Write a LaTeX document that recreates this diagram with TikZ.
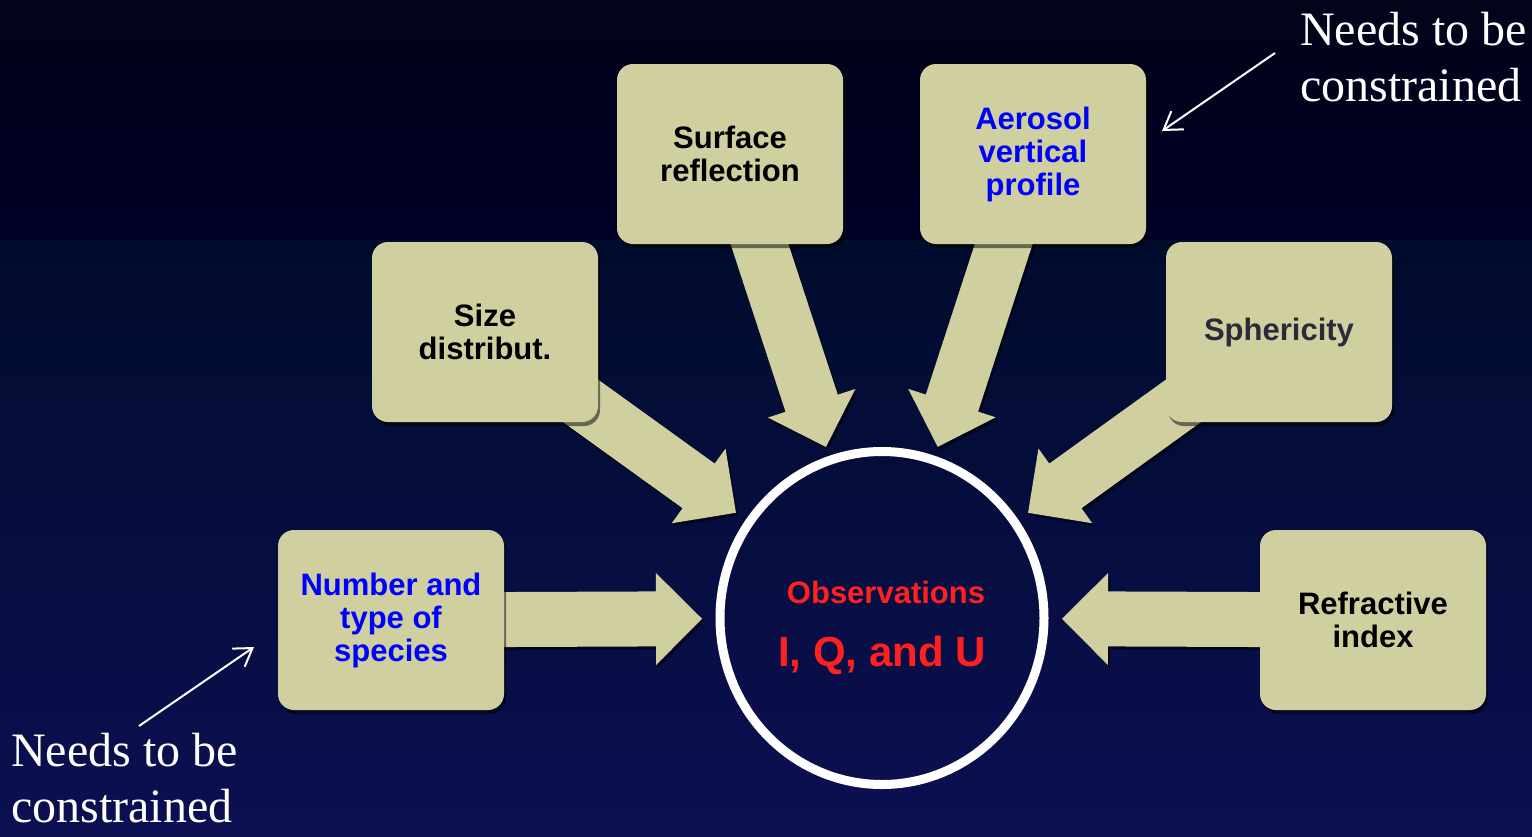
\documentclass[tikz,border=0pt]{standalone}
\usepackage{fontspec}
\setmainfont{Liberation Serif}
\setsansfont{Liberation Sans}
\usetikzlibrary{calc,shadows,backgrounds,shapes.geometric,arrows.meta}

\definecolor{khaki}{HTML}{CFCFA0}
\definecolor{skytop}{HTML}{03031A}
\definecolor{skybot}{HTML}{000026}
\definecolor{seatop}{HTML}{000C2C}
\definecolor{seamid}{HTML}{0E0A42}
\definecolor{seabot}{HTML}{0C0F52}
\definecolor{obsred}{HTML}{FF2020}
\definecolor{slate}{HTML}{2A2A3C}

\begin{document}
\begin{tikzpicture}
[x=1pt,y=-1pt,
 box/.style={rectangle,rounded corners=16pt,fill=khaki,minimum width=226pt,minimum height=180pt,inner sep=0pt,align=center,
   font=\sffamily\bfseries\fontsize{31}{33}\selectfont,drop shadow={shadow xshift=2pt,shadow yshift=-4pt,fill=black,opacity=.5}},
 fatarrow/.style={fill=khaki,drop shadow={shadow xshift=2pt,shadow yshift=-3pt,fill=black,opacity=.5}},
 obstext/.style={anchor=base,text=obsred,font=\sffamily\bfseries},
 note/.style={anchor=north west,align=left,inner sep=0pt,text=white,font=\fontsize{48}{56}\selectfont},
 notearrow/.style={draw=white,line width=2pt,-{Straight Barb[length=17pt,width=22pt,line width=2pt]}}]
\useasboundingbox (0,0) rectangle (1532,836);
\begin{scope}[on background layer]
\shade[top color=skytop,bottom color=skybot] (0,0) rectangle (1532,240);
\shade[top color=seatop,middle color=seamid,bottom color=seabot] (0,240) rectangle (1532,836);
\end{scope}

\node[box] (surf) at (730,154) {Surface\\reflection};
\node[box,text=blue] (aero) at (1033,154) {Aerosol\\vertical\\profile};
\node[box] (size) at (485,332) {Size\\distribut.};
\node[box,text=slate] (spher) at (1279,332) {Sphericity};
\node[box,text=blue] (num) at (391,620) {Number and\\type of\\species};
\node[box] (refr) at (1373,620) {Refractive\\index};

\node[ellipse,draw=white,line width=9pt,minimum width=324pt,minimum height=333pt,inner sep=0pt] (obs) at (882,618) {};
\node[obstext,font=\sffamily\bfseries\fontsize{31}{33}\selectfont] (obstitle) at (886,603) {Observations};
\node[obstext,font=\sffamily\bfseries\fontsize{42}{46}\selectfont] (stokes) at (882,666) {I, Q, and U};

% block arrows into the circle
\begin{scope}[on background layer]
\foreach \from in {num,size,surf,aero,spher,refr}{
  \coordinate (tip) at ($(obs.center)!180pt!(\from.center)$);
  \coordinate (neck) at ($(tip)!46pt!(\from.center)$);
  \fill[fatarrow] ($(\from.center)!27.5pt!90:(tip)$) -- ($(neck)!27.5pt!-90:(\from.center)$)
    -- ($(neck)!46pt!-90:(\from.center)$) -- (tip) -- ($(neck)!46pt!90:(\from.center)$)
    -- ($(neck)!27.5pt!90:(\from.center)$) -- ($(\from.center)!27.5pt!-90:(tip)$) -- cycle;
}
\end{scope}

\node[note] (topnote) at (1300,12) {Needs to be\\constrained};
\node[note] (botnote) at (11,733) {Needs to be\\constrained};
\coordinate (topfrom) at (1275,53);
\coordinate (topto) at (1162,131);
\draw[notearrow] (topfrom) -- (topto);
\coordinate (botfrom) at (139,726);
\coordinate (botto) at (254,647);
\draw[notearrow] (botfrom) -- (botto);
\end{tikzpicture}
\end{document}
